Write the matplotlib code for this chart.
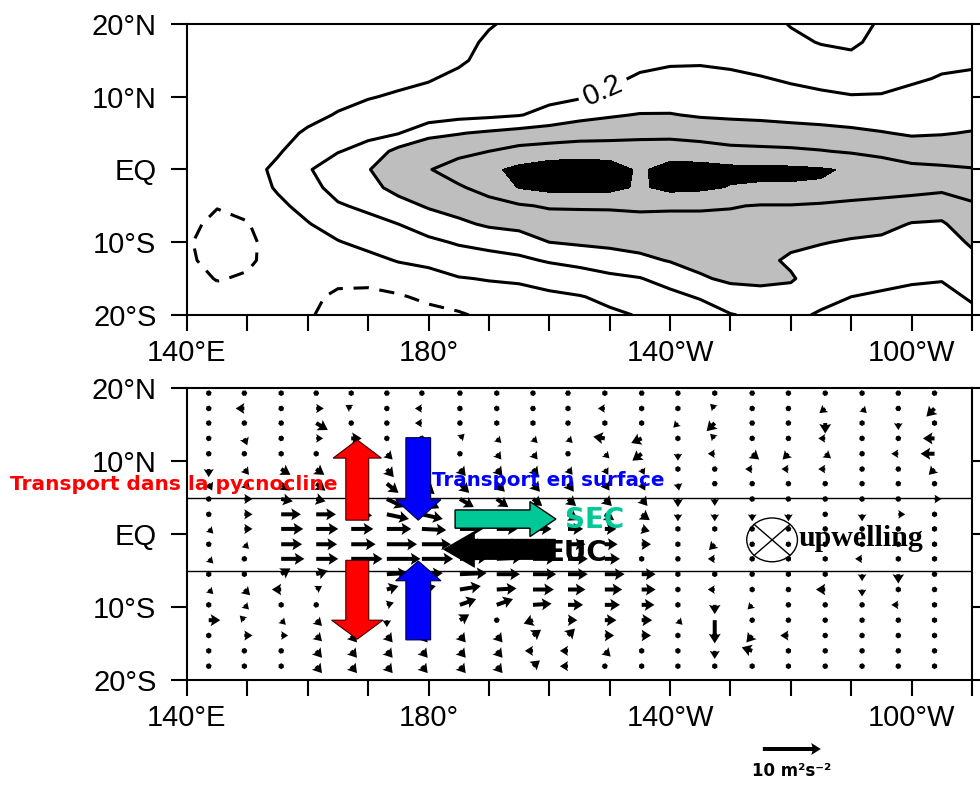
import matplotlib
matplotlib.use('Agg')
import matplotlib.pyplot as plt
import numpy as np
from matplotlib.patches import FancyArrow, Ellipse

plt.rcParams['font.family'] = ['Liberation Sans', 'DejaVu Sans']

# ---- top panel: contoured field, one column of values per longitude (lat -20 -> 20)
lon_grid = [140, 145, 150, 155, 160, 165, 170, 175, 180, 185, 190, 195, 200, 205,
            210, 215, 220, 225, 230, 235, 240, 245, 250, 255, 260, 265, 270]
lat_grid = [-20, -17.5, -15, -12.5, -10, -7.5, -5, -2.5, 0, 2.5, 5, 7.5, 10, 12.5, 15, 17.5, 20]
field_by_lon = [
    [-0.08, -0.10, -0.13, -0.17, -0.18, -0.15, -0.12, -0.10, -0.08, -0.07, -0.06, -0.06, -0.05, -0.05, -0.05, -0.05, -0.05],
    [-0.10, -0.14, -0.21, -0.26, -0.28, -0.25, -0.19, -0.14, -0.10, -0.08, -0.07, -0.05, -0.05, -0.05, -0.05, -0.05, -0.05],
    [-0.10, -0.13, -0.18, -0.23, -0.24, -0.21, -0.15, -0.10, -0.07, -0.06, -0.06, -0.05, -0.05, -0.05, -0.05, -0.05, -0.05],
    [-0.12, -0.12, -0.12, -0.13, -0.12, -0.09, -0.04, 0.02, 0.04, -0.02, -0.05, -0.06, -0.05, -0.05, -0.05, -0.05, -0.05],
    [-0.17, -0.15, -0.12, -0.10, -0.06, -0.01, 0.06, 0.13, 0.18, 0.10, 0.02, -0.04, -0.05, -0.05, -0.05, -0.05, -0.05],
    [-0.30, -0.24, -0.15, -0.08, -0.01, 0.08, 0.18, 0.27, 0.32, 0.19, 0.10, 0.01, -0.04, -0.05, -0.05, -0.05, -0.05],
    [-0.32, -0.26, -0.14, -0.05, 0.05, 0.14, 0.24, 0.34, 0.39, 0.27, 0.15, 0.06, -0.01, -0.04, -0.05, -0.05, -0.05],
    [-0.30, -0.22, -0.10, 0.01, 0.10, 0.20, 0.33, 0.46, 0.52, 0.46, 0.19, 0.09, 0.02, -0.04, -0.05, -0.05, -0.05],
    [-0.26, -0.16, -0.06, 0.04, 0.16, 0.29, 0.42, 0.54, 0.59, 0.50, 0.36, 0.08, 0.04, -0.01, -0.05, -0.05, -0.05],
    [-0.22, -0.12, -0.01, 0.10, 0.22, 0.36, 0.48, 0.58, 0.68, 0.55, 0.39, 0.14, 0.08, 0.03, -0.02, -0.04, -0.05],
    [-0.16, -0.07, 0.01, 0.13, 0.26, 0.43, 0.54, 0.66, 0.76, 0.60, 0.43, 0.16, 0.10, 0.07, 0.04, 0.02, -0.01],
    [-0.10, -0.05, 0.02, 0.16, 0.30, 0.46, 0.58, 0.81, 0.85, 0.66, 0.47, 0.19, 0.12, 0.09, 0.07, 0.05, 0.03],
    [-0.09, -0.03, 0.06, 0.22, 0.40, 0.50, 0.62, 0.86, 0.92, 0.68, 0.50, 0.26, 0.15, 0.11, 0.09, 0.07, 0.05],
    [-0.06, -0.01, 0.12, 0.25, 0.43, 0.52, 0.62, 0.87, 0.93, 0.70, 0.52, 0.34, 0.18, 0.13, 0.10, 0.08, 0.06],
    [-0.03, 0.04, 0.16, 0.30, 0.45, 0.53, 0.62, 0.86, 0.90, 0.70, 0.53, 0.38, 0.23, 0.17, 0.13, 0.10, 0.08],
    [0.01, 0.08, 0.19, 0.36, 0.46, 0.54, 0.63, 0.77, 0.77, 0.69, 0.55, 0.41, 0.28, 0.22, 0.16, 0.12, 0.10],
    [0.04, 0.14, 0.28, 0.41, 0.47, 0.55, 0.62, 0.86, 0.88, 0.70, 0.55, 0.41, 0.30, 0.24, 0.18, 0.13, 0.10],
    [0.08, 0.22, 0.38, 0.45, 0.48, 0.55, 0.62, 0.84, 0.88, 0.68, 0.53, 0.38, 0.31, 0.25, 0.18, 0.14, 0.11],
    [0.19, 0.32, 0.43, 0.46, 0.49, 0.55, 0.61, 0.79, 0.85, 0.65, 0.50, 0.37, 0.31, 0.24, 0.16, 0.13, 0.11],
    [0.24, 0.34, 0.44, 0.45, 0.48, 0.55, 0.59, 0.78, 0.84, 0.64, 0.49, 0.36, 0.29, 0.21, 0.14, 0.10, 0.07],
    [0.24, 0.33, 0.42, 0.37, 0.44, 0.53, 0.59, 0.78, 0.84, 0.63, 0.48, 0.34, 0.25, 0.18, 0.10, 0.04, -0.01],
    [0.18, 0.25, 0.30, 0.33, 0.41, 0.50, 0.57, 0.78, 0.82, 0.61, 0.46, 0.33, 0.23, 0.15, 0.07, -0.01, -0.05],
    [0.15, 0.20, 0.26, 0.32, 0.38, 0.48, 0.55, 0.72, 0.78, 0.58, 0.44, 0.31, 0.21, 0.12, 0.04, -0.03, -0.06],
    [0.13, 0.18, 0.24, 0.30, 0.36, 0.46, 0.54, 0.68, 0.70, 0.55, 0.41, 0.30, 0.21, 0.15, 0.10, 0.05, 0.02],
    [0.12, 0.16, 0.22, 0.28, 0.34, 0.39, 0.52, 0.66, 0.65, 0.50, 0.38, 0.31, 0.24, 0.18, 0.14, 0.12, 0.10],
    [0.12, 0.15, 0.21, 0.27, 0.33, 0.38, 0.49, 0.64, 0.63, 0.50, 0.39, 0.32, 0.26, 0.21, 0.17, 0.15, 0.13],
    [0.16, 0.22, 0.30, 0.36, 0.42, 0.50, 0.58, 0.66, 0.61, 0.50, 0.41, 0.33, 0.27, 0.22, 0.18, 0.15, 0.13],
]

# ---- bottom panel: vectors (m2 s-2), rows from north to south
vec_lon = [143.6, 149.5, 155.6, 161.4, 167.2, 173.1, 178.9, 185.2, 191.3, 197.3, 203.1,
           209.2, 215.3, 221.3, 227.4, 233.6, 239.6, 245.7, 251.8, 257.8, 263.8]
vec_lat = [19.3, 17.2, 15.2, 13.1, 11.0, 8.9, 6.9, 4.8, 2.7, 0.7, -1.4, -3.4, -5.5,
           -7.6, -9.7, -11.8, -13.9, -16.0, -18.1]
u_rows = [
    [0.3, 0.2, 0.3, -0.2, 0.3, 0.2, 0.3, 0.2, 0.3, -0.3, 0.2, 0.3, 0.2, -0.3, 0.3, 0.2, -0.3, 0.3, 0.2, -0.2, 0.3],
    [0.3, -1.5, 0.3, 1.3, -1.0, 0.3, -1.2, 0.2, 0.1, -0.6, 0.0, -1.2, 0.0, 0.0, -0.8, 0.3, -1.0, -1.0, 0.8, -1.0, -1.4],
    [0.3, 0.3, 0.3, 2.0, -0.6, 0.3, -1.2, 0.3, 0.0, 0.0, 0.3, 0.0, 0.0, -0.8, -1.4, -1.0, 0.3, 0.0, 0.0, 0.0, 0.0],
    [0.3, 0.5, 0.6, 1.2, 1.8, 0.3, 0.6, 0.8, 0.8, 0.8, 0.8, -2.0, -1.8, 0.0, -0.8, 0.3, 0.3, -1.2, 0.3, 0.3, -2.0],
    [0.3, 0.3, 0.0, 0.8, 0.6, 1.0, 1.0, 0.3, 0.8, 0.8, 0.6, 0.8, -1.6, 0.0, -1.2, 1.2, -1.0, 1.0, 0.3, -1.2, -2.4],
    [0.0, 0.8, 1.6, 1.4, 1.2, 1.2, 1.2, 1.0, 1.0, 1.0, 0.8, 0.6, 0.5, 0.0, 0.3, -1.2, -1.2, -1.2, 0.3, 0.3, -1.0],
    [0.6, 1.0, 1.6, 1.6, 1.8, 2.0, 2.2, 1.6, 1.4, 1.2, 1.0, 0.8, 0.6, 0.2, -1.0, 0.3, 0.3, 0.3, 0.3, 0.3, 0.3],
    [0.3, 1.4, 2.0, 1.6, 2.4, 3.0, 3.0, 2.4, 2.0, 1.6, 1.4, 1.2, 1.0, 0.0, 0.0, 0.3, 0.3, 0.3, 0.3, 0.3, 1.2],
    [0.3, 1.4, 3.4, 3.4, 3.6, 3.8, 3.6, 3.2, 2.8, 2.4, 1.8, 1.6, 1.4, 0.0, 0.0, 0.0, 0.0, 0.3, 0.0, 1.2, 0.0],
    [0.8, 1.4, 3.8, 3.8, 3.8, 4.2, 4.2, 4.0, 3.6, 3.2, 2.6, 2.0, 1.4, 0.0, 0.0, 0.3, 0.3, 0.3, 0.3, 0.3, 0.0],
    [0.3, 0.8, 3.6, 3.6, 4.2, 5.2, 5.0, 4.6, 4.2, 3.8, 3.0, 2.2, 1.6, 0.0, -1.0, 0.3, 0.3, 0.3, 0.3, 0.3, 0.0],
    [0.8, 0.3, 4.0, 3.8, 5.4, 5.8, 5.4, 4.8, 4.4, 4.0, 3.4, 2.6, 0.0, 0.3, -1.2, 0.3, 0.0, 0.0, -1.2, 0.0, 0.0],
    [0.0, 0.0, 1.6, 2.0, 3.0, 3.6, 3.6, 4.6, 4.0, 4.0, 3.4, 3.4, 2.4, 0.0, 0.0, 0.3, 0.0, 0.0, 0.0, 0.0, 0.3],
    [0.8, 1.0, -1.6, 1.0, 1.4, 2.0, 2.4, 3.6, 3.4, 3.6, 3.0, 3.0, 2.4, 0.0, -1.2, 0.0, 0.3, -1.6, 0.0, 0.0, 0.3],
    [0.0, 0.8, 0.0, 0.3, 0.8, 1.2, 1.6, 2.8, 2.8, 3.2, 2.6, 2.6, 2.2, 0.0, 0.0, -0.8, 0.3, 0.3, 0.3, -1.2, 0.0],
    [2.0, -0.8, 0.8, 1.0, 1.0, 0.0, 0.8, 1.6, 0.3, -1.6, 1.6, 2.0, 1.8, 0.8, 0.0, 0.3, 0.3, 0.3, 0.3, 0.3, 0.0],
    [0.0, 1.4, 1.2, 1.0, 1.0, 1.0, 1.0, 1.0, 1.0, 1.4, 1.2, 1.6, 1.6, 0.0, 0.0, -1.0, -1.4, 0.3, 0.3, 0.3, 0.0],
    [0.0, 0.3, 0.3, 1.0, 1.0, 1.0, 1.0, 1.0, 1.0, -1.4, -1.4, 1.0, 0.0, 0.0, 0.0, -1.8, 0.0, 0.3, 0.3, 0.3, 0.3],
    [0.3, 0.0, 0.0, 1.0, 1.0, 1.0, 1.0, 1.0, 1.0, 1.2, -1.4, 0.3, 0.0, 0.0, 0.0, 0.0, 0.0, 0.3, 0.3, 0.3, 0.0],
]
v_rows = [
    [-0.3, -0.3, 0.2, -0.3, -0.2, -0.3, 0.3, -0.3, -0.2, -0.3, -0.3, 0.2, -0.3, -0.3, -0.2, 0.3, -0.3, -0.3, 0.2, -0.3, -0.3],
    [-0.3, 0.0, -0.3, 0.0, 0.6, -0.3, 0.0, -1.0, -1.0, -0.8, 0.9, 0.0, -1.0, -1.0, 0.8, -0.3, 0.2, -0.8, -0.8, 0.0, -1.4],
    [-0.3, -0.3, -0.3, -1.2, 0.6, -0.3, 0.0, -0.3, 0.9, -1.0, -0.3, -1.0, -1.0, -0.8, -1.4, 0.0, -0.3, -1.8, -1.0, -1.2, -1.0],
    [-0.3, -1.2, -0.6, 0.0, 0.0, -0.3, -0.6, 0.8, -0.8, -0.8, -0.8, 0.3, -0.8, -1.0, 0.8, -0.3, -0.3, 0.0, -0.3, -0.3, 0.0],
    [-0.3, -0.3, -1.0, -0.6, -0.8, -1.0, -1.2, -0.3, -1.0, -1.0, -0.8, -0.8, -1.2, -1.2, 0.0, -1.0, -1.0, -0.8, -0.3, 0.0, 0.0],
    [-1.4, -1.0, -1.0, -1.0, -1.2, -1.4, -1.6, -1.2, -1.2, -1.2, -1.0, -1.0, -1.0, -1.0, -0.3, 0.0, 0.0, 0.0, -0.3, -0.3, -1.0],
    [-1.2, -1.0, -1.2, -1.2, -1.4, -1.6, -1.8, -1.6, -1.4, -1.4, -1.4, -1.2, -1.2, -1.2, 0.0, -0.3, -0.3, -0.3, -0.3, -0.3, -0.3],
    [-0.3, 0.0, -0.4, -0.4, -0.8, -1.4, -1.6, -1.4, -1.4, -1.2, -1.2, -1.2, -1.2, -1.4, -1.2, -0.3, -0.3, -0.3, -0.3, -0.3, 0.0],
    [-0.3, 0.0, 0.0, 0.0, -0.2, -0.8, -0.8, -0.6, -0.8, -0.8, -1.0, -1.0, -1.0, -1.2, -1.2, -1.2, -1.2, -0.3, -1.2, 0.0, -1.0],
    [-0.8, 0.0, 0.0, 0.0, 0.0, 0.0, -0.2, 0.0, 0.0, 0.0, 0.0, 0.0, -0.4, -1.0, -1.0, -0.3, -0.3, -0.3, -0.3, -0.3, -1.0],
    [-0.3, -0.8, 0.0, 0.0, 0.0, 0.0, 0.0, 0.0, 0.0, 0.0, 0.0, 0.0, 0.0, -1.0, -1.0, -0.3, -0.3, -0.3, -0.3, -0.3, -1.0],
    [-0.8, -0.3, 0.0, 0.0, 0.0, 0.0, 0.0, 0.2, 0.2, 0.0, 0.0, 0.0, -1.0, -0.3, 0.0, -0.3, -1.0, -1.0, 0.0, -1.0, -1.0],
    [-1.0, -1.0, 1.0, 0.6, 0.4, 0.2, 0.2, 0.2, 0.0, 0.0, 0.0, 0.0, 0.0, -1.0, -1.0, -0.3, -1.0, -1.0, -1.2, -1.6, -0.3],
    [-0.8, -1.0, 0.0, 0.6, 0.6, 0.6, 0.6, 0.6, 0.2, 0.0, 0.0, 0.0, 0.0, -1.0, 0.0, -1.0, -0.3, 0.0, -1.2, -1.0, -0.3],
    [-1.0, -0.8, 1.0, -0.3, -0.8, 0.4, 0.4, 1.0, 1.0, 0.2, 0.0, 0.0, 0.0, -1.0, -1.6, -0.8, -0.3, -0.3, -0.3, 0.0, -1.0],
    [0.0, 0.8, -0.8, -1.0, -1.0, -1.2, -1.0, 1.0, -0.3, -0.6, 0.0, 0.0, 0.0, -0.8, -4.0, -0.3, -0.3, -0.3, -0.3, -0.3, -1.0],
    [-1.0, 0.0, 0.0, -1.0, -1.2, -1.2, -1.2, -1.2, -1.2, 1.0, 1.2, 0.0, 0.0, -1.0, -1.0, -1.2, 0.0, -0.3, -0.3, -0.3, -1.0],
    [-1.0, -0.3, -0.3, -1.2, -1.2, -1.2, -1.2, -1.2, -1.2, 0.0, 0.0, -1.0, -1.0, -1.0, -1.4, 0.6, -1.0, -0.3, -0.3, -0.3, -0.3],
    [-0.3, -1.0, -1.0, -1.2, -1.2, -1.2, -1.2, -1.2, -1.2, 1.0, 0.0, -0.3, -1.0, -1.0, -1.0, -1.0, -1.0, -0.3, -0.3, -0.3, -1.0],
]

x_ticks = [140, 150, 160, 170, 180, 190, 200, 210, 220, 230, 240, 250, 260, 270]
x_names = {140: '140°E', 180: '180°', 220: '140°W', 260: '100°W'}
y_ticks = [-20, -10, 0, 10, 20]
y_names = ['20°S', '10°S', 'EQ', '10°N', '20°N']


def style_axes(ax):
    ax.set_xlim(140, 270)
    ax.set_ylim(-20, 20)
    ax.set_xticks(x_ticks)
    ax.set_xticklabels([x_names.get(t, '') for t in x_ticks])
    ax.set_yticks(y_ticks)
    ax.set_yticklabels(y_names)
    ax.tick_params(direction='out', length=11.5, width=1.5, labelsize=21, right=True)
    ax.tick_params(axis='x', pad=6)
    ax.tick_params(axis='y', pad=10.5)
    for sp in ax.spines.values():
        sp.set_linewidth(1.5)


fig = plt.figure(figsize=(9.8, 7.89), dpi=100)
ax1 = fig.add_axes([0.1908, 0.6008, 0.801, 0.3688])
ax2 = fig.add_axes([0.1908, 0.1381, 0.801, 0.3701])

# top panel
z = np.array(field_by_lon).T
ax1.contourf(lon_grid, lat_grid, z, levels=[0.4, 0.8, 5], colors=['#bebebe', 'black'])
ax1.contour(lon_grid, lat_grid, z, levels=[-0.2], colors='black', linewidths=2.2,
            linestyles=[(0, (5, 3.5))])
ax1.contour(lon_grid, lat_grid, z, levels=[0.0, 0.4, 0.6], colors='black',
            linewidths=2.2, linestyles='solid')
cs02 = ax1.contour(lon_grid, lat_grid, z, levels=[0.2], colors='black',
                   linewidths=2.2, linestyles='solid')
ax1.clabel(cs02, manual=[(209, 10.7)], fmt='%.1f', fontsize=21, inline=True,
           inline_spacing=6)
style_axes(ax1)

# bottom panel
q = ax2.quiver(vec_lon, vec_lat, np.array(u_rows), np.array(v_rows), units='dots', width=4,
               headwidth=3, headlength=2.4, headaxislength=2.1, scale_units='dots',
               scale=10 / 58, minlength=1.5, color='black', zorder=2)
ax2.axhline(5, color='black', lw=1, zorder=1)
ax2.axhline(-5, color='black', lw=1, zorder=1)
ax2.quiverkey(q, 0.808, 0.0507, 10, '10 m²s⁻²', labelpos='S', coordinates='figure',
              labelsep=0.13, fontproperties={'weight': 'bold', 'size': 12, 'family': 'DejaVu Sans'})
style_axes(ax2)

# schematic arrows
ax2.add_patch(FancyArrow(168.2, 1.9, 0, 11.0, width=3.8, head_width=8.0, head_length=2.5,
                         length_includes_head=True, fc='red', ec='#400000', lw=0.8, zorder=4))
ax2.add_patch(FancyArrow(168.2, -3.6, 0, -10.8, width=3.8, head_width=8.5, head_length=2.6,
                         length_includes_head=True, fc='red', ec='#400000', lw=0.8, zorder=4))
ax2.add_patch(FancyArrow(178.3, 13.2, 0, -11.3, width=4.1, head_width=7.5, head_length=2.8,
                         length_includes_head=True, fc='blue', ec='#000040', lw=0.8, zorder=4))
ax2.add_patch(FancyArrow(178.3, -14.5, 0, 10.8, width=4.1, head_width=7.5, head_length=2.7,
                         length_includes_head=True, fc='blue', ec='#000040', lw=0.8, zorder=4))
ax2.add_patch(FancyArrow(184.4, 2.05, 16.7, 0, width=2.5, head_width=4.8, head_length=4.3,
                         length_includes_head=True, fc='#00c896', ec='black', lw=1, zorder=4))
ax2.add_patch(FancyArrow(200.9, -2.1, -18.2, 0, width=2.6, head_width=4.6, head_length=4.8,
                         length_includes_head=True, fc='black', ec='black', lw=1.5, zorder=4))

fig.text(10 / 980, 1 - 485 / 789, 'Transport dans la pycnocline', color='red', fontsize=14.5,
         fontweight='bold', family='DejaVu Sans', va='center', ha='left', zorder=5)
ax2.text(180.6, 7.4, 'Transport en surface', color='blue', fontsize=14.3, fontweight='bold',
         family='DejaVu Sans', va='center', ha='left', zorder=5)
ax2.text(202.6, 1.9, 'SEC', color='#00c896', fontsize=20, fontweight='bold',
         family='DejaVu Sans', va='center', ha='left', zorder=5)
ax2.text(199.3, -2.6, 'EUC', color='black', fontsize=20, fontweight='bold',
         family='DejaVu Sans', va='center', ha='left', zorder=5)

# upwelling symbol
cx, cy, ew, eh = 236.9, -0.8, 8.4, 6.0
ax2.add_patch(Ellipse((cx, cy), ew, eh, fc='none', ec='black', lw=1, zorder=4))
for ang in (45, 135):
    a = np.deg2rad(ang)
    dx, dy = ew / 2 * np.cos(a), eh / 2 * np.sin(a)
    ax2.plot([cx - dx, cx + dx], [cy - dy, cy + dy], color='black', lw=1, zorder=4)
ax2.text(241.2, -0.6, 'upwelling', fontsize=21.5, fontweight='bold', family='Liberation Serif',
         va='center', ha='left', zorder=5)

fig.savefig('out.png', dpi=100)
